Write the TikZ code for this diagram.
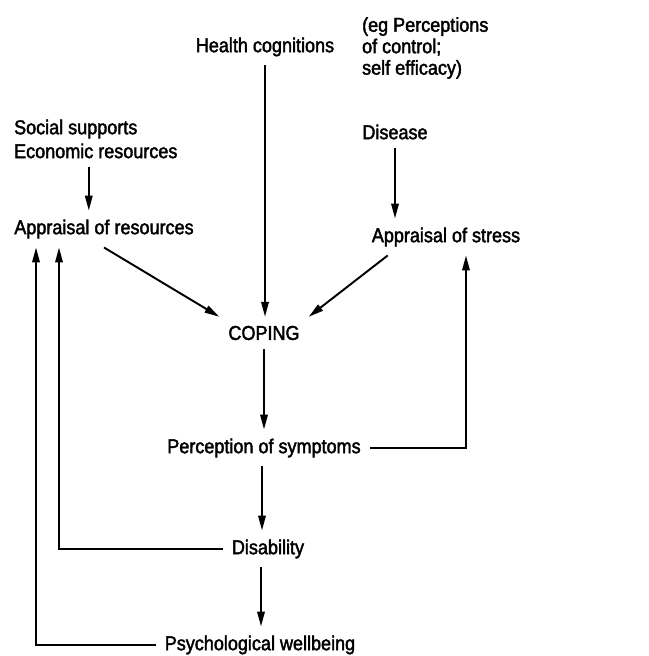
\documentclass[tikz,border=0pt]{standalone}
\usepackage{fontspec}
\setmainfont{Liberation Sans}[FakeStretch=0.9, FakeBold=2]
\usetikzlibrary{arrows.meta,calc}

\begin{document}
\begin{tikzpicture}[x=0.02cm, y=-0.02cm,
        lbl/.style={inner sep=5pt, font=\fontsize{11.4}{12.2}\selectfont},
        arrow/.style={-{Triangle[length=3mm,width=1.5mm]}, line width=1.1pt},
        loop/.style={-{Triangle[length=3mm,width=1.5mm]}, line width=1.1pt}
    ]
    \useasboundingbox (0,0) rectangle (649,656);

    \node[lbl] (hc) at (265,47) {Health cognitions};
    \node[lbl, anchor=west, align=left] (eg) at (353,48) {(eg Perceptions\\of control;\\self efficacy)};
    \node[lbl, anchor=west, align=left, font=\fontsize{11.4}{13.6}\selectfont] (soc) at (5,139) {Social supports\\Economic resources};
    \node[lbl] (res) at (104,229) {Appraisal of resources};
    \node[lbl] (dis) at (395,132) {Disease};
    \node[lbl] (str) at (446,237) {Appraisal of stress};
    \node[lbl] (cop) at (264,333) {COPING};
    \node[lbl] (per) at (264,448) {Perception of symptoms};
    \node[lbl] (dsb) at (268,549) {Disability};
    \node[lbl] (psy) at (260,645) {Psychological wellbeing};

    \draw[arrow] ([xshift=-1.4mm]soc.south) -- ([xshift=-1.4mm]soc.south |- res.north);
    \draw[arrow] (dis) -- (dis |- str.north);
    \draw[arrow] (hc) -- (hc |- cop.north);
    \draw[arrow] (res.south) -- (cop.north west);
    \draw[arrow] ($(str.south west)!.15!(str.south east)$) -- (cop.north east);
    \draw[arrow] (cop) -- (cop |- per.north);
    \draw[arrow] ([xshift=-0.4mm]per.south) -- ([xshift=-0.4mm]per.south |- dsb.north);
    \draw[arrow] ([xshift=-0.6mm]per.south |- dsb.south) -- ([xshift=-0.6mm]per.south |- psy.north);

    % feedback lines
    \draw[loop] (per.east) -| ([xshift=4mm]str.south);
    \draw[loop] (dsb.west) -| ([xshift=-9mm]res.south);
    \draw[loop] (psy.west) -| ([xshift=-13.6mm]res.south);
\end{tikzpicture}
\end{document}
